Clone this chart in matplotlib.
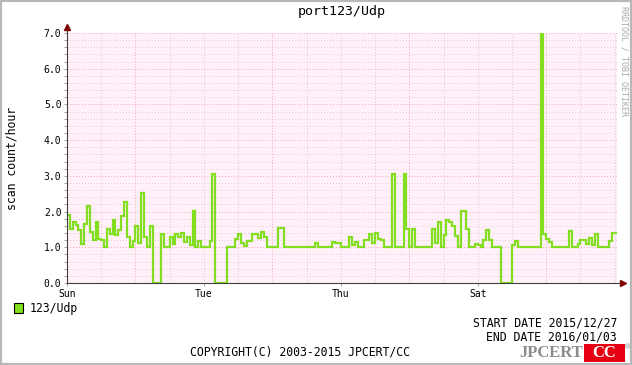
import numpy as np
import matplotlib
matplotlib.use('Agg')
import matplotlib.pyplot as plt
from matplotlib.patches import Rectangle

# hourly scan counts from 2015/12/27 00:00
scans = [
    1.9, 1.52, 1.7, 1.62, 1.48, 1.1, 1.66, 2.16, 1.42, 1.21,
    1.72, 1.24, 1.21, 1.0, 1.52, 1.38, 1.76, 1.35, 1.48, 1.88,
    2.27, 1.28, 1.0, 1.19, 1.59, 1.13, 2.53, 1.29, 1.0, 1.59,
    0, 0, 0,
    1.38, 1.0, 1.0, 1.3, 1.1, 1.37, 1.28, 1.4, 1.16, 1.3,
    1.07, 2.02, 1.0, 1.17, 1.0, 1.0, 1.0, 1.19, 3.05, 0,
    0, 0, 0, 1.0, 1.0, 1.0, 1.24, 1.37, 1.11, 1.05, 1.19,
    1.19, 1.36, 1.36, 1.26, 1.42, 1.3, 1.0, 1.0, 1.0, 1.0,
    1.54, 1.54, 1.0, 1.0, 1.0, 1.0, 1.0, 1.0, 1.0, 1.0,
    1.0, 1.0, 1.0, 1.13, 1.0, 1.0, 1.0, 1.0, 1.0, 1.16,
    1.13, 1.13,
    1.0, 1.0, 1.0, 1.28, 1.07, 1.14, 1.0, 1.0, 1.21, 1.21,
    1.36, 1.13, 1.4, 1.24, 1.2, 1.0, 1.0, 1.0, 3.05, 1.0,
    1.0, 1.0, 3.05, 1.52, 1.0, 1.52, 1.0, 1.0, 1.0, 1.0,
    1.0, 1.0,
    1.52, 1.11, 1.7, 1.0, 1.35, 1.76, 1.7, 1.61, 1.32, 1.0,
    2.02, 2.02, 1.52, 1.0, 1.0, 1.1, 1.07, 1.0, 1.21, 1.48,
    1.21, 1.0, 1.0, 1.0, 0, 0, 0, 0, 1.07, 1.19,
    1.0, 1.0, 1.0,
    1.0, 1.0, 1.0, 1.0, 1.0, 7.0, 1.38, 1.23, 1.16, 1.0,
    1.0, 1.0, 1.0, 1.0, 1.0, 1.47, 1.0, 1.0, 1.1, 1.2,
    1.2, 1.1, 1.25, 1.07, 1.38, 1.0, 1.0, 1.0, 1.0, 1.19,
    1.4, 1.4,
]
day_hours = [0, 48, 96, 144]
day_labels = ['Sun', 'Tue', 'Thu', 'Sat']
y_ticks = [0, 1, 2, 3, 4, 5, 6, 7]

W, H = 632, 365
MONO = 'DejaVu Sans Mono'
GREEN = '#82DE1E'


def fx(x):
    return x / W


def fy(y):
    return 1 - y / H


fig = plt.figure(figsize=(W / 100, H / 100), dpi=100)
fig.patch.set_facecolor('white')

# plot area 67..617 px wide, 33..283 px tall
ax = fig.add_axes([fx(67), fy(283), 550 / W, 250 / H])
ax.set_facecolor('#FFF0FA')
ax.set_xlim(0, 192.8)
ax.set_ylim(0, 7)
for s in ax.spines.values():
    s.set_visible(False)

# grid
minor_c = '#E2CCDC'
major_c = '#EDA8B4'
for v in np.arange(0.2, 7.01, 0.2):
    is_major = abs(v - round(v)) < 1e-6
    ax.axhline(v, color=major_c if is_major else minor_c, lw=0.7,
               ls=(0, (1, 2)), zorder=1)
for h in range(12, 193, 12):
    is_major = (h - 24) % 48 == 0
    ax.axvline(h, color=major_c if is_major else '#D8C8D4', lw=0.7,
               ls=(0, (1, 2)), zorder=1)

hours = np.arange(len(scans) + 1)
ax.step(hours, scans + [scans[-1]], where='post', color=GREEN, lw=1.6,
        zorder=3, solid_joinstyle='miter')

# axes with arrows
ax.plot([0, 0], [0, 1.02], color='#404040', lw=0.8, transform=ax.transAxes,
        clip_on=False, zorder=4)
ax.plot([0, 1.008], [0, 0], color='#404040', lw=0.8, transform=ax.transAxes,
        clip_on=False, zorder=4)
ax.plot([0], [1.025], marker='^', ms=4, color='#800000', mec='#800000',
        transform=ax.transAxes, clip_on=False, zorder=5)
ax.plot([1.01], [0], marker='>', ms=4, color='#800000', mec='#800000',
        transform=ax.transAxes, clip_on=False, zorder=5)

ax.set_yticks(y_ticks)
ax.set_yticklabels(['%.1f' % v for v in y_ticks], fontfamily=MONO, fontsize=7)
ax.set_yticks(np.arange(0, 7.01, 0.2), minor=True)
ax.set_xticks(day_hours)
ax.set_xticklabels(day_labels, fontfamily=MONO, fontsize=7)
ax.set_xticks(range(0, 193, 12), minor=True)
ax.tick_params(axis='both', which='both', length=2, width=0.6, color='#909090',
               pad=2)
ax.tick_params(axis='x', which='minor', length=0)

fig.text(fx(342), fy(12), 'port123/Udp', ha='center', va='center',
         fontfamily=MONO, fontsize=9.5)
fig.text(fx(12), fy(158), 'scan count/hour', ha='center', va='center',
         rotation=90, fontfamily=MONO, fontsize=8.3)
fig.text(fx(624), fy(6), 'RRDTOOL / TOBI OETIKER', ha='center', va='top',
         rotation=270, fontfamily=MONO, fontsize=6, color='#A8A8A8')

# legend
fig.patches.append(Rectangle((fx(14), fy(313)), 9 / W, 10 / H,
                             transform=fig.transFigure, facecolor=GREEN,
                             edgecolor='black', lw=0.8))
fig.text(fx(30), fy(308.5), '123/Udp', ha='left', va='center',
         fontfamily=MONO, fontsize=8.3)

fig.text(fx(617), fy(323), 'START DATE 2015/12/27', ha='right', va='center',
         fontfamily=MONO, fontsize=8.3)
fig.text(fx(617), fy(337), 'END DATE 2016/01/03', ha='right', va='center',
         fontfamily=MONO, fontsize=8.3)
fig.text(fx(300), fy(352), 'COPYRIGHT(C) 2003-2015 JPCERT/CC', ha='center',
         va='center', fontfamily=MONO, fontsize=8.3)

# JPCERT/CC logo
fig.text(fx(583), fy(353), 'JPCERT', ha='right', va='center',
         fontfamily='Liberation Serif', fontweight='bold', fontsize=12,
         color='#8C8C8C')
fig.patches.append(Rectangle((fx(584), fy(362)), 41 / W, 18 / H,
                             transform=fig.transFigure, facecolor='#E60012',
                             edgecolor='none'))
fig.text(fx(604.5), fy(353), 'CC', ha='center', va='center',
         fontfamily='Liberation Serif', fontweight='bold', fontsize=12,
         color='white')
fig.text(fx(628), fy(347), '\u00ae', ha='center', va='center',
         fontsize=5, color='#8C8C8C')

# frame
fig.patches.append(Rectangle((0, 0), 1, 1, transform=fig.transFigure,
                             facecolor='none', edgecolor='#B8B8B8', lw=3))

fig.savefig('out.png', dpi=100)
